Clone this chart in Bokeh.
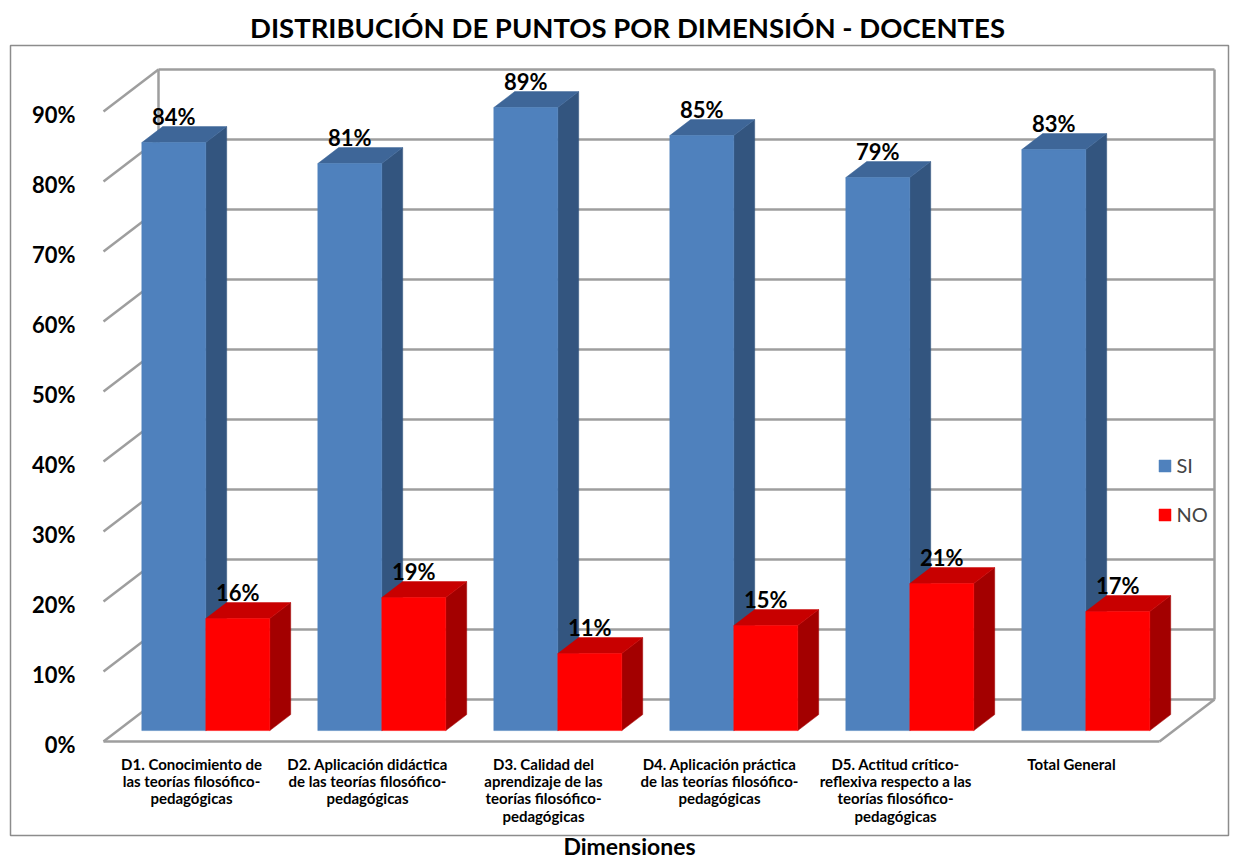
from bokeh.plotting import figure
from bokeh.models import Range1d, Legend, LegendItem
from bokeh.embed import file_html
from bokeh.resources import INLINE
from bokeh.core.properties import value

# ---------------- data ----------------
categories = [
    "D1. Conocimiento de\nlas teorías filosófico-\npedagógicas",
    "D2. Aplicación didáctica\nde las teorías filosófico-\npedagógicas",
    "D3. Calidad del\naprendizaje de las\nteorías filosófico-\npedagógicas",
    "D4. Aplicación práctica\nde las teorías filosófico-\npedagógicas",
    "D5. Actitud crítico-\nreflexiva respecto a las\nteorías filosófico-\npedagógicas",
    "Total General",
]
si_values = [84, 81, 89, 85, 79, 83]
no_values = [16, 19, 11, 15, 21, 17]
series_names = ["SI", "NO"]
y_ticks = [0, 10, 20, 30, 40, 50, 60, 70, 80, 90]
y_tick_labels = ["0%", "10%", "20%", "30%", "40%", "50%", "60%", "70%", "80%", "90%"]
title_text = "DISTRIBUCIÓN DE PUNTOS POR DIMENSIÓN - DOCENTES"
x_title = "Dimensiones"

# ---------------- layout ----------------
W, H = 1233, 859
X0_PX, Y0_PX = 103, 741      # front-left corner of the floor
CAT_PX, PCT_PX = 176, 7      # pixels per category / per percent


def X(px):
    return (px - X0_PX) / CAT_PX


def Y(py):
    return (Y0_PX - py) / PCT_PX


n = len(si_values)
YMAX = y_ticks[-1]
DX, DY = 55 / CAT_PX, 42 / PCT_PX   # full depth of the 3-D box
Z_F, Z_B = 0.26, 0.64               # depth of the bars
BW = 64 / CAT_PX                    # bar width
dxf, dyf = Z_F * DX, Z_F * DY
dxb, dyb = Z_B * DX, Z_B * DY

FONT = "Lato"

p = figure(width=W, height=H, x_range=Range1d(X(0), X(W)), y_range=Range1d(Y(H), Y(0)),
           output_backend="svg", toolbar_location=None, min_border=0,
           x_axis_location=None, y_axis_location=None)
p.grid.visible = False
p.outline_line_color = None
p.background_fill_color = "white"
p.border_fill_color = "white"

# chart border
p.quad(left=[X(10)], right=[X(1228)], top=[Y(45)], bottom=[Y(835)],
       fill_color=None, line_color="#8C8C8C", line_width=1.5)

# ---------------- 3-D walls / grid ----------------
gxs, gys = [], []
for t in y_ticks:
    gxs.append([DX, n + DX]); gys.append([t + DY, t + DY])   # back wall
    gxs.append([0, DX]); gys.append([t, t + DY])             # side wall
gxs.append([DX, DX]); gys.append([DY, YMAX + DY])
gxs.append([n + DX, n + DX]); gys.append([DY, YMAX + DY])
gxs.append([0, n]); gys.append([0, 0])
gxs.append([n, n + DX]); gys.append([0, DY])
p.multi_line(xs=gxs, ys=gys, line_color="#9E9E9E", line_width=2.5)

# ---------------- bars ----------------
colors = {
    "SI": ("#4F81BD", "#3E6698", "#33557F"),
    "NO": ("#FF0000", "#C80000", "#A30000"),
}
front_renderers = []
for s, (name, vals) in enumerate(zip(series_names, [si_values, no_values])):
    fx, fy, tx, ty, sx, sy = [], [], [], [], [], []
    for i, v in enumerate(vals):
        xl = i + 0.5 - BW + s * BW
        xr = xl + BW
        fx.append([xl + dxf, xr + dxf, xr + dxf, xl + dxf])
        fy.append([dyf, dyf, v + dyf, v + dyf])
        tx.append([xl + dxf, xr + dxf, xr + dxb, xl + dxb])
        ty.append([v + dyf, v + dyf, v + dyb, v + dyb])
        sx.append([xr + dxf, xr + dxb, xr + dxb, xr + dxf])
        sy.append([dyf, dyb, v + dyb, v + dyf])
    c_front, c_top, c_side = colors[name]
    p.patches(xs=sx, ys=sy, fill_color=c_side, line_color=c_side, line_width=0.5)
    p.patches(xs=tx, ys=ty, fill_color=c_top, line_color=c_top, line_width=0.5)
    r = p.patches(xs=fx, ys=fy, fill_color=c_front, line_color=c_front, line_width=0.5)
    front_renderers.append(r)

# value labels
for s, vals in enumerate([si_values, no_values]):
    lx = [i + 0.5 - BW / 2 + s * BW + dxf for i in range(n)]
    ly = [v + dyf for v in vals]
    p.text(x=lx, y=ly, text=[f"{v}%" for v in vals], text_align="center",
           text_baseline="middle", y_offset=-26,
           text_font=value(FONT), text_font_style="bold", text_font_size="22px",
           text_color="black")

# y tick labels
p.text(x=[X(75)] * len(y_ticks), y=y_ticks, text=y_tick_labels, text_align="right",
       text_baseline="middle", y_offset=3,
       text_font=value(FONT), text_font_style="bold", text_font_size="22px", text_color="black")

# category labels
p.text(x=[i + 0.5 for i in range(n)], y=[Y(754)] * n, text=categories,
       text_align="center", text_baseline="top", text_line_height=0.97,
       text_font=value(FONT), text_font_style="bold", text_font_size="15px", text_color="black")

# title & x-axis title
p.text(x=[X(627)], y=[Y(27)], text=[title_text], text_align="center", text_baseline="middle",
       text_font=value(FONT), text_font_style="bold", text_font_size="27.5px", text_color="black")
p.text(x=[X(629)], y=[Y(845)], text=[x_title], text_align="center", text_baseline="middle",
       text_font=value(FONT), text_font_style="bold", text_font_size="23px", text_color="black")

# legend
legend = Legend(items=[LegendItem(label=nm, renderers=[r]) for nm, r in zip(series_names, front_renderers)],
                location=(1156.5, 333), orientation="vertical",
                glyph_width=15, glyph_height=15, label_height=24, spacing=25,
                label_standoff=5, padding=0, margin=0,
                label_text_font=FONT, label_text_font_size="20px",
                background_fill_alpha=0, border_line_color=None)
p.add_layout(legend)

open("out.html", "w").write(file_html(p, INLINE))
